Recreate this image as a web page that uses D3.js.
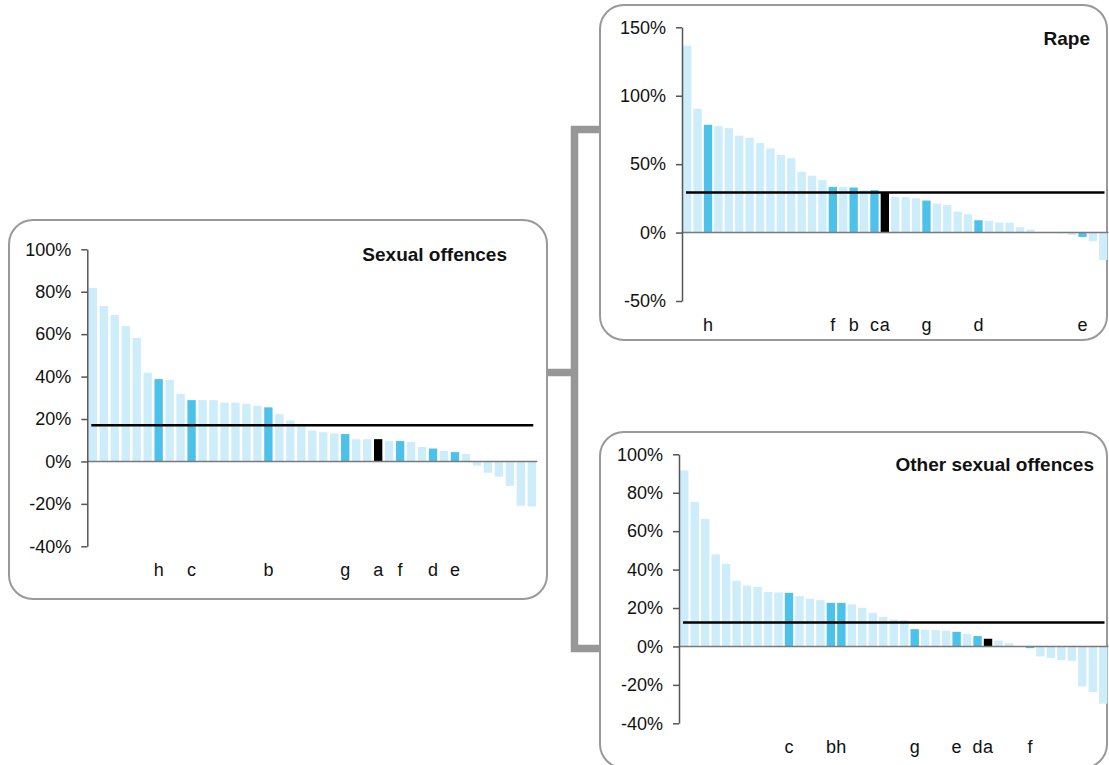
<!DOCTYPE html>
<html>
<meta charset="utf-8">
<title>Sexual offences bars</title>
<style>

body {
  margin: 0;
  background: #fff;
}

html {
  font-family: "Liberation Sans", Arial, sans-serif;
}

.axis path, .axis line {
  stroke: #555;
  stroke-width: 1.5px;
}

.axis text {
  font-size: 18px;
  fill: #111;
}

.panel {
  fill: #fff;
  stroke: #999;
  stroke-width: 2px;
}

</style>
<svg></svg>
<script src="https://d3js.org/d3.v7.min.js"></script>
<script>

// Sexual offences (all)
var sexValues = [81.8, 73.3, 69.0, 63.8, 58.2, 41.8, 38.8, 38.5, 31.9, 28.9,
  28.9, 28.9, 27.7, 27.7, 27.2, 26.3, 25.5, 22.3, 19.3, 17.0,
  14.6, 13.8, 13.2, 12.9, 10.5, 10.5, 10.5, 9.6, 9.6, 9.1,
  6.8, 6.1, 4.9, 4.4, 3.5, -1.9, -5.3, -7.2, -11.5, -20.9, -21.2];
var sexLabels = ["", "", "", "", "", "", "h", "", "", "c",
  "", "", "", "", "", "", "b", "", "", "",
  "", "", "", "g", "", "", "a", "", "f", "",
  "", "d", "", "e", "", "", "", "", "", "", ""];
var sexMean = 17.1;
var sexTicks = [-40, -20, 0, 20, 40, 60, 80, 100];

// Rape
var rapeValues = [136.6, 90.5, 78.8, 77.8, 76.3, 70.7, 69.3, 65.4, 61.5, 56.8,
  54.4, 44.4, 41.5, 38.3, 33.4, 33.2, 32.9, 31.0, 31.0, 29.3,
  25.9, 25.9, 25.1, 23.4, 21.2, 20.0, 15.4, 13.4, 9.0, 8.5,
  7.3, 7.3, 3.9, 2.2, 0.1, -0.1, -0.6, -1.7, -3.2, -6.3, -20.0];
var rapeLabels = ["", "", "h", "", "", "", "", "", "", "",
  "", "", "", "", "f", "", "b", "", "c", "a",
  "", "", "", "g", "", "", "", "", "d", "",
  "", "", "", "", "", "", "", "", "e", "", ""];
var rapeMean = 29.3;
var rapeTicks = [-50, 0, 50, 100, 150];

// Other sexual offences
var otherValues = [91.6, 75.3, 66.3, 47.9, 43.0, 34.2, 31.7, 31.0, 28.4, 28.1,
  27.9, 26.2, 24.8, 24.1, 22.7, 22.7, 21.9, 20.1, 17.5, 15.4,
  14.0, 13.7, 9.0, 8.7, 8.5, 8.2, 7.6, 6.6, 5.4, 4.0,
  3.1, 1.7, 0.2, -0.9, -5.2, -6.1, -7.1, -7.5, -20.8, -23.8, -29.8];
var otherLabels = ["", "", "", "", "", "", "", "", "", "",
  "c", "", "", "", "b", "h", "", "", "", "",
  "", "", "g", "", "", "", "e", "", "d", "a",
  "", "", "", "f", "", "", "", "", "", "", ""];
var otherMean = 12.5;
var otherTicks = [-40, -20, 0, 20, 40, 60, 80, 100];

var svg = d3.select("svg")
    .attr("width", 1109)
    .attr("height", 765);

// bracket joining the panels
svg.append("path")
    .attr("d", "M547,372.5H574.5M600,129.5H574.5V648.5H600")
    .attr("fill", "none")
    .attr("stroke", "#979797")
    .attr("stroke-width", 7.5);

function drawPanel(p) {
  svg.append("rect").attr("class", "panel")
      .attr("x", p.box[0]).attr("y", p.box[1])
      .attr("width", p.box[2]).attr("height", p.box[3])
      .attr("rx", 24).attr("ry", 24);

  var x = d3.scaleBand()
      .domain(d3.range(p.values.length))
      .range(p.xr)
      .paddingInner(p.pad)
      .paddingOuter(p.pad / 2);

  var y = d3.scaleLinear().domain(p.domain).range(p.yr);

  var g = svg.append("g");

  g.selectAll(".bar")
      .data(p.values)
    .enter().append("rect")
      .attr("class", "bar")
      .attr("x", function(d, i) { return x(i); })
      .attr("y", function(d) { return y(Math.max(0, d)); })
      .attr("width", x.bandwidth())
      .attr("height", function(d) { return Math.abs(y(d) - y(0)); })
      .attr("fill", function(d, i) {
        var l = p.labels[i];
        if (l == "a") return "#000";
        if (l != "") return "#4cc2ea";
        return "#ccedf9";
      });

  // zero line
  g.append("line")
      .attr("x1", p.xr[0]).attr("x2", p.xr[1])
      .attr("y1", y(0)).attr("y2", y(0))
      .attr("stroke", "#7a7a7a")
      .attr("stroke-width", 1.5);

  // average line
  g.append("line")
      .attr("x1", p.xr[0] + 4).attr("x2", p.xr[1] - 4)
      .attr("y1", y(p.mean)).attr("y2", y(p.mean))
      .attr("stroke", "#000")
      .attr("stroke-width", 2.5);

  g.append("g")
      .attr("class", "axis")
      .attr("transform", "translate(" + p.xr[0] + ",0)")
      .call(d3.axisLeft(y).tickValues(p.ticks).tickSize(6).tickSizeOuter(0)
        .tickPadding(10).tickFormat(function(d) { return d + "%"; }));

  g.selectAll("text.lab")
      .data(p.labels)
    .enter().append("text")
      .attr("class", "lab")
      .attr("text-anchor", "middle")
      .attr("x", function(d, i) { return x(i) + x.bandwidth() / 2; })
      .attr("y", p.labelY)
      .attr("font-size", "18px")
      .attr("fill", "#111")
      .text(function(d) { return d; });

  g.append("text")
      .attr("x", p.title[1]).attr("y", p.title[2])
      .attr("text-anchor", "end")
      .attr("font-size", "19px")
      .attr("font-weight", "bold")
      .attr("fill", "#111")
      .text(p.title[0]);
}

drawPanel({
  values: sexValues, labels: sexLabels, mean: sexMean, ticks: sexTicks,
  domain: [-40, 100], yr: [546.3, 249.3], xr: [87.3, 537.3], pad: 0.24,
  box: [9, 220, 538, 379], labelY: 576, title: ["Sexual offences", 507, 261]
});

drawPanel({
  values: rapeValues, labels: rapeLabels, mean: rapeMean, ticks: rapeTicks,
  domain: [-50, 150], yr: [301, 27.3], xr: [682, 1108.5], pad: 0.2,
  box: [600, 5, 507, 335], labelY: 331, title: ["Rape", 1090, 45]
});

drawPanel({
  values: otherValues, labels: otherLabels, mean: otherMean, ticks: otherTicks,
  domain: [-40, 100], yr: [723.3, 454.3], xr: [679, 1108.5], pad: 0.2,
  box: [600, 432, 507, 336], labelY: 753, title: ["Other sexual offences", 1094, 471]
});

</script>
</html>
